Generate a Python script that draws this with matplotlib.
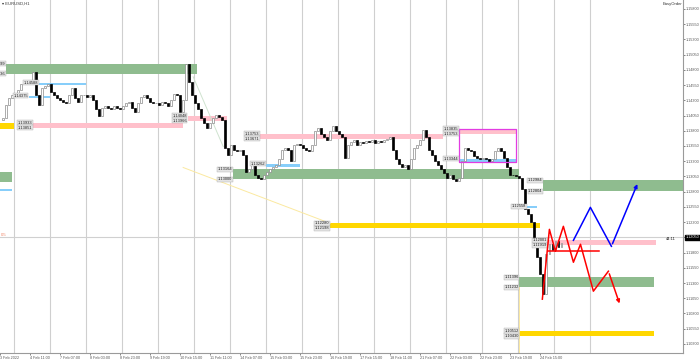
import numpy as np
import matplotlib.pyplot as plt

# EURUSD H1, one close every 2 bars (hours counted from 3 Feb 15:00, weekends skipped)
bar_step = 2
closes = [
    1.1398, 1.1401, 1.1423, 1.1434, 1.1438, 1.1441, 1.1447, 1.1457, 1.1460, 1.1457,
    1.1460, 1.1477, 1.1439, 1.1423, 1.1451, 1.1454, 1.1457, 1.1444, 1.1438, 1.1433,
    1.1431, 1.1428, 1.1425, 1.1439, 1.1451, 1.1434, 1.1428, 1.1438, 1.1439, 1.1436,
    1.1438, 1.1431, 1.1415, 1.1405, 1.1418, 1.1421, 1.1418, 1.1415, 1.1421, 1.1418,
    1.1415, 1.1420, 1.1425, 1.1428, 1.1418, 1.1410, 1.1425, 1.1436, 1.1439, 1.1434,
    1.1428, 1.1425, 1.1426, 1.1423, 1.1428, 1.1425, 1.1421, 1.1431, 1.1441, 1.1438,
    1.1411, 1.1431, 1.1490, 1.1460, 1.1439, 1.1425, 1.1415, 1.1401, 1.1392, 1.1385,
    1.1392, 1.1401, 1.1406, 1.1403, 1.1398, 1.1352, 1.1341, 1.1357, 1.1349, 1.1346,
    1.1349, 1.1341, 1.1313, 1.1317, 1.1325, 1.1308, 1.1303, 1.1300, 1.1307, 1.1313,
    1.1317, 1.1320, 1.1323, 1.1333, 1.1349, 1.1352, 1.1349, 1.1330, 1.1356, 1.1359,
    1.1356, 1.1352, 1.1349, 1.1346, 1.1357, 1.1379, 1.1385, 1.1375, 1.1369, 1.1365,
    1.1379, 1.1388, 1.1379, 1.1374, 1.1369, 1.1336, 1.1357, 1.1362, 1.1365, 1.1357,
    1.1362, 1.1360, 1.1364, 1.1362, 1.1365, 1.1360, 1.1364, 1.1362, 1.1365, 1.1367,
    1.1369, 1.1349, 1.1333, 1.1325, 1.1320, 1.1323, 1.1317, 1.1333, 1.1352, 1.1357,
    1.1365, 1.1382, 1.1369, 1.1349, 1.1341, 1.1330, 1.1323, 1.1317, 1.1310, 1.1303,
    1.1307, 1.1300, 1.1297, 1.1303, 1.1330, 1.1352, 1.1349, 1.1346, 1.1339, 1.1336,
    1.1333, 1.1336, 1.1333, 1.1330, 1.1333, 1.1346, 1.1352, 1.1346, 1.1336, 1.1320,
    1.1308, 1.1307, 1.1305, 1.1303, 1.1284, 1.1251, 1.1243, 1.1231, 1.1202, 1.1172,
    1.1145, 1.1112, 1.1177, 1.1194, 1.1185, 1.1199, 1.1189, 1.1195,
]
last_price = 1.12050

# supply / demand zones
zone_kind = ["green", "blue", "blue", "yellow", "pink", "pink", "pink", "blue", "green",
             "green", "blue", "pink", "blue", "green", "blue", "yellow", "pink", "green", "yellow"]
zone_start = [4, 26, 19, 0, 22, 125, 173, 177, 155, 0, 0, 306, 306, 362, 351, 220, 365, 346, 346]
zone_end = [131, 57, 33, 9, 122, 151, 295, 200, 346, 8, 8, 344, 344, 455, 358, 360, 437, 436, 436]
zone_top = [1.14899, 1.14588, 1.14375, 1.13933, 1.13933, 1.14048, 1.13753, 1.13262, 1.13164,
            1.13131, 1.12836, 1.13835, 1.13344, 1.12984, 1.12558, 1.12280, 1.12001, 1.11396, 1.10512]
zone_bottom = [1.14736, 1.14555, 1.14343, 1.13835, 1.13851, 1.13966, 1.13671, 1.13213, 1.13000,
               1.12951, 1.12804, 1.13753, 1.13295, 1.12804, 1.12525, 1.12198, 1.11919, 1.11232, 1.10430]
zone_colors = {"green": "#8fbc8f", "blue": "#87cefa", "pink": "#ffc0cb", "yellow": "#ffd700"}

# magenta box
box_start, box_end = 306, 344
box_top, box_bottom = 1.13835, 1.13295

# projections
red_hours = [361.3, 366, 370, 375.3, 382, 386.7, 395.3, 405.3, 413.3]
red_prices = [1.11035, 1.12181, 1.11821, 1.12231, 1.11641, 1.11936, 1.11166, 1.11494, 1.10921]
red_level_hours = [365.3, 399.3]
red_level = 1.11821
blue_hours = [382, 393.3, 407.3, 425.3]
blue_prices = [1.12001, 1.12542, 1.11903, 1.12967]

# faint trend lines
trend1_hours, trend1_prices = [122, 220], [1.13197, 1.12280]
trend2_hours, trend2_prices = [128.7, 148.7], [1.14686, 1.13540]

price_ticks = [1.1580, 1.1555, 1.1530, 1.1505, 1.1480, 1.1455, 1.1430, 1.1405, 1.1380, 1.1355,
               1.1330, 1.1305, 1.1280, 1.1255, 1.1230, 1.1205, 1.1180, 1.1155, 1.1130, 1.1105,
               1.1080, 1.1055, 1.1030]
date_labels = ["3 Feb 2022", "4 Feb 11:00", "7 Feb 07:00", "8 Feb 03:00", "8 Feb 23:00",
               "9 Feb 19:00", "10 Feb 15:00", "11 Feb 11:00", "14 Feb 07:00", "15 Feb 03:00",
               "15 Feb 23:00", "16 Feb 19:00", "17 Feb 15:00", "18 Feb 11:00", "21 Feb 07:00",
               "22 Feb 03:00", "22 Feb 23:00", "23 Feb 19:00", "24 Feb 15:00"]
day_separators = [9, 33, 57, 81, 105, 129, 153, 177, 201, 225, 249, 273, 297, 321, 345, 369, 393]

plt.rcParams["font.family"] = ["Liberation Sans", "DejaVu Sans"]

fig = plt.figure(figsize=(7, 3.62), dpi=100)
ax = fig.add_axes([0, 9 / 362, 683 / 700, 353 / 362])
ax.set_xlim(0, 455)
ax.set_ylim(1.10151, 1.15947)

for h in day_separators:
    ax.axvline(h, color="#cfcfcf", lw=0.8, zorder=0)
ax.axhline(last_price, color="#d0d0d0", lw=0.8, zorder=0)

# zones
for kind, x0, x1, top, bot in zip(zone_kind, zone_start, zone_end, zone_top, zone_bottom):
    ax.fill_between([x0, x1], bot, top, color=zone_colors[kind], lw=0, zorder=1)
    if x0 == 0:
        continue
    lab_prices = [top] if kind == "blue" else [top, bot]
    for p in lab_prices:
        ax.text(x0 - 0.5, p, f"{p:.5f}", fontsize=2.9, ha="right", va="center", color="#222",
                bbox=dict(boxstyle="square,pad=0.15", fc="#e4e4e4", ec="#b0b0b0", lw=0.3), zorder=5)

ax.plot([box_start, box_end, box_end, box_start, box_start],
        [box_top, box_top, box_bottom, box_bottom, box_top], color="#e23ce2", lw=0.9, zorder=4)
ax.plot(trend1_hours, trend1_prices, color="#fbe9a0", lw=0.7, zorder=1)
ax.plot(trend2_hours, trend2_prices, color="#cfe3cf", lw=0.7, zorder=1)
ax.plot([346, 346], [1.10151, 1.11232], color="#fbe9a0", lw=0.7, zorder=1)

# candles
hours = np.arange(len(closes)) * bar_step
opens = np.array(closes[:-1])
cls = np.array(closes[1:])
hrs = hours[1:]
lo = np.minimum(opens, cls)
hi = np.maximum(opens, cls)
height = np.maximum(hi - lo, 0.00006)
up = cls >= opens
ax.bar(hrs[up], height[up], bottom=lo[up], width=1.2, color="white", edgecolor="#8a8a8a", lw=0.5, zorder=3)
ax.bar(hrs[~up], height[~up], bottom=lo[~up], width=1.2, color="black", edgecolor="black", lw=0.5, zorder=3)

# projections
ax.plot(red_hours[:-1], red_prices[:-1], color="red", lw=1.1, zorder=6)
ax.annotate("", xy=(red_hours[-1], red_prices[-1]), xytext=(red_hours[-2], red_prices[-2]),
            arrowprops=dict(arrowstyle="-|>", color="red", lw=1.1, mutation_scale=5), zorder=6)
ax.plot(red_level_hours, [red_level, red_level], color="red", lw=1.1, zorder=6)
ax.plot(blue_hours[:-1], blue_prices[:-1], color="blue", lw=1.1, zorder=6)
ax.annotate("", xy=(blue_hours[-1], blue_prices[-1]), xytext=(blue_hours[-2], blue_prices[-2]),
            arrowprops=dict(arrowstyle="-|>", color="blue", lw=1.1, mutation_scale=5), zorder=6)

# axes styling
for side in ["top", "left"]:
    ax.spines[side].set_visible(False)
for side in ["right", "bottom"]:
    ax.spines[side].set_color("#9a9a9a")
    ax.spines[side].set_linewidth(0.8)
ax.yaxis.tick_right()
ax.set_yticks(price_ticks)
# the tick under the current price is hidden by the price box
ax.set_yticklabels(["" if abs(p - last_price) < 1e-6 else f"{p:.5f}" for p in price_ticks])
ax.set_xticks(np.arange(len(date_labels)) * 20)
ax.set_xticklabels(date_labels, ha="left")
ax.tick_params(axis="both", labelsize=2.7, colors="#555", length=1.5, width=0.5, pad=0.5)

ax.text(1.004, last_price, f"{last_price:.5f}", transform=ax.get_yaxis_transform(), fontsize=2.7,
        color="white", va="center", ha="left",
        bbox=dict(boxstyle="square,pad=0.2", fc="black", ec="black"), clip_on=False, zorder=7)
ax.text(0.99, last_price - 0.0003, "44:11", transform=ax.get_yaxis_transform(), fontsize=3,
        color="#222", ha="right", va="center")
ax.text(0.002, last_price + 0.0004, "0.5", transform=ax.get_yaxis_transform(), fontsize=3,
        color="#f08060", ha="left", va="center")

fig.text(0.003, 0.995, "\u25be EURUSD,H1", fontsize=3, color="#333", va="top")
fig.text(0.947, 0.995, "EasyOrder", fontsize=3, color="#333", va="top")

fig.savefig("out.png", dpi=100)
